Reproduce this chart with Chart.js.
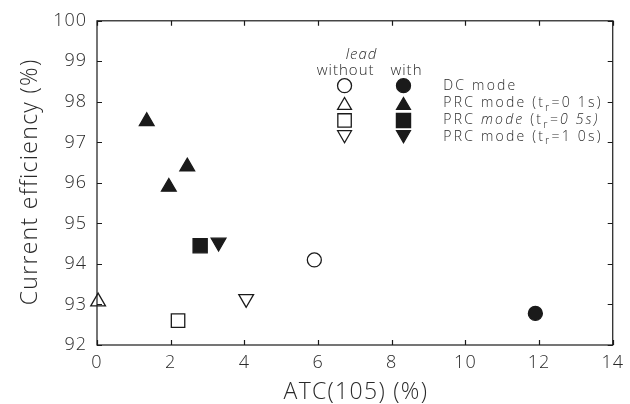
<!DOCTYPE html>
<html>
<head>
<meta charset="utf-8">
<script src="https://cdn.jsdelivr.net/npm/chart.js@4/dist/chart.umd.min.js"></script>
<style>
  html, body { margin: 0; padding: 0; background: #fff; }
  #wrap { width: 630px; height: 404px; }
</style>
</head>
<body>
<div id="wrap"><canvas id="c" width="630" height="404"></canvas></div>
<script>
// ---- data ----
const xTicks = [0, 2, 4, 6, 8, 10, 12, 14];
const yTicks = [92, 93, 94, 95, 96, 97, 98, 99, 100];
const xTitle = 'ATC(105) (%)';
const yTitle = 'Current efficiency (%)';
const seriesNames = ['DC mode', 'PRC mode (tr=0 1s)', 'PRC mode (tr=0 5s)', 'PRC mode (tr=1 0s)'];
// without lead (open symbols)
const dcWithoutX = [5.9];   const dcWithoutY = [94.1];
const p01WithoutX = [0.03]; const p01WithoutY = [93.07];
const p05WithoutX = [2.2];  const p05WithoutY = [92.6];
const p10WithoutX = [4.05]; const p10WithoutY = [93.14];
// with lead (filled symbols)
const dcWithX = [11.9];     const dcWithY = [92.78];
const p01WithX = [1.35, 1.95, 2.45]; const p01WithY = [97.52, 95.9, 96.4];
const p05WithX = [2.8];     const p05WithY = [94.45];
const p10WithX = [3.3];     const p10WithY = [94.53];

const pts = (xs, ys) => xs.map((x, i) => ({x, y: ys[i]}));
const INK = '#1a1a1a';
const TXT = '#2a2a2a';
const FONT = "'Open Sans', 'DejaVu Sans', sans-serif";

function ds(label, xs, ys, style, filled, radius, rotation) {
  return {
    label, data: pts(xs, ys), pointStyle: style, pointRadius: radius,
    pointHoverRadius: radius, pointRotation: rotation || 0,
    backgroundColor: filled ? INK : '#ffffff', borderColor: INK,
    pointBorderWidth: 1.3, showLine: false, clip: false
  };
}

const datasets = [
  ds(seriesNames[0] + ' without', dcWithoutX, dcWithoutY, 'circle', false, 7),
  ds(seriesNames[1] + ' without', p01WithoutX, p01WithoutY, 'triangle', false, 8.5),
  ds(seriesNames[2] + ' without', p05WithoutX, p05WithoutY, 'rect', false, 9.5),
  ds(seriesNames[3] + ' without', p10WithoutX, p10WithoutY, 'triangle', false, 8.5, 180),
  ds(seriesNames[0] + ' with', dcWithX, dcWithY, 'circle', true, 7),
  ds(seriesNames[1] + ' with', p01WithX, p01WithY, 'triangle', true, 8.5),
  ds(seriesNames[2] + ' with', p05WithX, p05WithY, 'rect', true, 10),
  ds(seriesNames[3] + ' with', p10WithX, p10WithY, 'triangle', true, 8.5, 180)
];

// wider letter spacing for the tick labels (stroke-font look of the original)
const spacingPlugin = {
  id: 'spacing',
  beforeDraw(chart) { chart.ctx.letterSpacing = '1px'; }
};

// Frame with inward ticks on all four sides + axis titles
const framePlugin = {
  id: 'frame',
  afterDraw(chart) {
    const {ctx, chartArea: a, scales: {x, y}} = chart;
    ctx.save();
    ctx.strokeStyle = INK; ctx.lineWidth = 1.2;
    ctx.strokeRect(a.left, a.top, a.right - a.left, a.bottom - a.top);
    const L = 5;
    ctx.beginPath();
    xTicks.forEach(v => {
      const px = Math.round(x.getPixelForValue(v)) + 0.5;
      ctx.moveTo(px, a.bottom); ctx.lineTo(px, a.bottom - L);
      ctx.moveTo(px, a.top); ctx.lineTo(px, a.top + L);
    });
    yTicks.forEach(v => {
      const py = Math.round(y.getPixelForValue(v)) + 0.5;
      ctx.moveTo(a.left, py); ctx.lineTo(a.left + L, py);
      ctx.moveTo(a.right, py); ctx.lineTo(a.right - L, py);
    });
    ctx.stroke();

    // axis titles
    ctx.fillStyle = TXT;
    ctx.font = '300 23px ' + FONT;
    ctx.letterSpacing = '1.3px';
    ctx.textAlign = 'center';
    ctx.textBaseline = 'alphabetic';
    ctx.fillText(xTitle, (a.left + a.right) / 2 + 1, 399);
    ctx.translate(37, (a.top + a.bottom) / 2 - 1);
    ctx.rotate(-Math.PI / 2);
    ctx.fillText(yTitle, 0, 0);
    ctx.restore();
  }
};

// Key drawn inside the plot, placed with the chart's scales
const keyPlugin = {
  id: 'key',
  afterDatasetsDraw(chart) {
    const {ctx, scales: {x, y}} = chart;
    const H = Chart.helpers;
    ctx.save();
    ctx.fillStyle = TXT;
    ctx.textBaseline = 'middle';
    ctx.textAlign = 'center';
    ctx.letterSpacing = '1px';
    ctx.font = 'italic 300 15px ' + FONT;
    ctx.fillText('lead', x.getPixelForValue(7.18), y.getPixelForValue(99.17));
    ctx.font = '300 15px ' + FONT;
    ctx.fillText('without', x.getPixelForValue(6.75), y.getPixelForValue(98.78));
    ctx.fillText('with', x.getPixelForValue(8.4), y.getPixelForValue(98.78));

    const rows = [98.4, 97.96, 97.54, 97.14];
    const styles = [['circle', 7, 0, 7], ['triangle', 8, 0, 8], ['rect', 9.5, 0, 10], ['triangle', 8, 180, 8]];
    const xo = x.getPixelForValue(6.72), xf = x.getPixelForValue(8.32);
    rows.forEach((rv, i) => {
      const py = y.getPixelForValue(rv);
      const [st, ro, rot, rf] = styles[i];
      const off = st === 'triangle' ? (rot ? -2 : 2) : 0;
      ctx.strokeStyle = INK; ctx.lineWidth = 1.3;
      ctx.fillStyle = '#fff';
      H.drawPoint(ctx, {pointStyle: st, radius: ro, rotation: rot, borderWidth: 1.3}, xo, py + off);
      ctx.fillStyle = INK;
      H.drawPoint(ctx, {pointStyle: st, radius: rf, rotation: rot, borderWidth: 1.3}, xf, py + off);
    });

    // labels
    const tx = x.getPixelForValue(9.4);
    ctx.textAlign = 'left';
    ctx.fillStyle = TXT;
    ctx.letterSpacing = '2.2px';
    const normal = '300 14px ' + FONT, ital = 'italic 300 14px ' + FONT, sub = '300 11px ' + FONT;
    const parts = [
      [['DC mode', normal]],
      [['PRC mode (t', normal], ['r', sub, 4], ['=0 1s)', normal]],
      [['PRC ', normal], ['mode', ital], [' (t', normal], ['r', sub, 4], ['=0 5s)', ital]],
      [['PRC mode (t', normal], ['r', sub, 4], ['=1 0s)', normal]]
    ];
    parts.forEach((segs, i) => {
      let cx = tx;
      const py = y.getPixelForValue(rows[i]);
      segs.forEach(([t, f, dy]) => {
        ctx.font = f;
        ctx.fillText(t, cx, py + (dy || 0));
        cx += ctx.measureText(t).width;
      });
    });
    ctx.restore();
  }
};

new Chart(document.getElementById('c'), {
  type: 'scatter',
  data: { datasets },
  options: {
    responsive: false,
    animation: false,
    devicePixelRatio: 1,
    layout: { padding: { top: 18, right: 13, left: 0, bottom: 0 } },
    plugins: { legend: { display: false }, tooltip: { enabled: false } },
    scales: {
      x: {
        type: 'linear', min: 0, max: 14,
        afterBuildTicks: s => { s.ticks = xTicks.map(v => ({value: v})); },
        afterFit: s => { s.height = 59; },
        grid: { display: false, drawTicks: false },
        border: { display: false },
        ticks: { color: TXT, font: { family: FONT, size: 18, weight: '300' }, padding: 7, maxRotation: 0, autoSkip: false },
        title: { display: false, text: xTitle }
      },
      y: {
        type: 'linear', min: 92, max: 100,
        afterBuildTicks: s => { s.ticks = yTicks.map(v => ({value: v})); },
        afterFit: s => { s.width = 97; },
        grid: { display: false, drawTicks: false },
        border: { display: false },
        ticks: { color: TXT, font: { family: FONT, size: 18, weight: '300' }, padding: 10, autoSkip: false },
        title: { display: false, text: yTitle }
      }
    }
  },
  plugins: [spacingPlugin, framePlugin, keyPlugin]
});
</script>
</body>
</html>
